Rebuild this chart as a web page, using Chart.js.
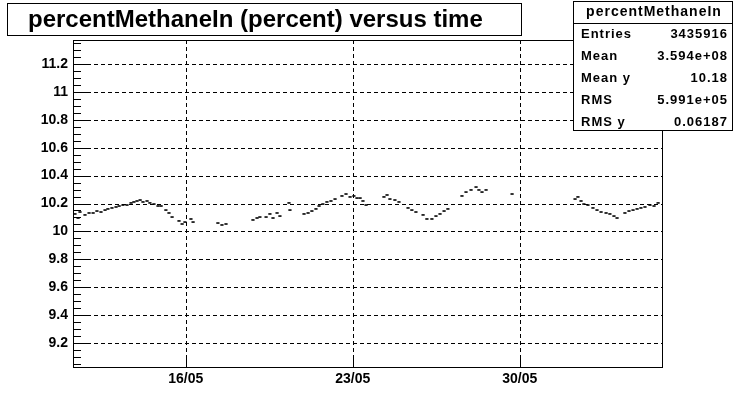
<!DOCTYPE html>
<html>
<head>
<meta charset="utf-8">
<script src="https://cdn.jsdelivr.net/npm/chart.js@4.4.1/dist/chart.umd.min.js"></script>
<style>
  html, body { margin: 0; padding: 0; background: #fff; }
  #wrap { width: 735px; height: 408px; }
</style>
</head>
<body>
<div id="wrap"><canvas id="myChart" width="735" height="408"></canvas></div>
<script>
// time in days of May (16 = 16/05 00:00), values in percent
const days = [
    11.36, 11.49, 11.57, 11.78, 11.95, 12.12, 12.28, 12.45, 12.62, 12.74,
    12.91, 13.08, 13.21, 13.37, 13.54, 13.71, 13.83, 13.96, 14.09, 14.21,
    14.38, 14.50, 14.67, 14.84, 14.97, 15.17, 15.30, 15.43, 15.72, 15.85,
    15.97, 16.22, 16.31,
    17.35, 17.52, 17.69,
    18.82, 18.99, 19.11, 19.37, 19.53, 19.66, 19.83, 19.95, 20.33, 20.37,
    20.96, 21.13, 21.29, 21.46, 21.59, 21.75, 21.92, 22.09, 22.26, 22.55,
    22.72, 22.89, 23.05, 23.18, 23.31, 23.43, 23.56,
    24.31, 24.44, 24.56, 24.77, 24.94, 25.32, 25.48, 25.65, 25.95, 26.11,
    26.32, 26.49, 26.66, 26.83, 26.99,
    27.58, 27.75, 27.96, 28.17, 28.29, 28.42, 28.59,
    29.68,
    32.32, 32.44, 32.57, 32.69, 32.86, 33.07, 33.24, 33.41, 33.62, 33.78,
    33.95, 34.08, 34.41, 34.58, 34.75, 34.92, 35.08, 35.25, 35.46, 35.63,
    35.80
];
const methane = [
    10.125, 10.096, 10.139, 10.118, 10.132, 10.132, 10.146, 10.139, 10.153, 10.161,
    10.168, 10.175, 10.182, 10.189, 10.189, 10.204, 10.211, 10.218, 10.225, 10.211,
    10.218, 10.204, 10.196, 10.182, 10.182, 10.153, 10.132, 10.103, 10.075, 10.053,
    10.067, 10.089, 10.067,
    10.060, 10.046, 10.053,
    10.082, 10.096, 10.103, 10.103, 10.125, 10.096, 10.132, 10.110, 10.204, 10.153,
    10.125, 10.132, 10.146, 10.161, 10.182, 10.196, 10.211, 10.218, 10.232, 10.254,
    10.268, 10.247, 10.254, 10.239, 10.239, 10.218, 10.189,
    10.247, 10.261, 10.232, 10.225, 10.211, 10.168, 10.153, 10.139, 10.118, 10.089,
    10.089, 10.110, 10.125, 10.146, 10.161,
    10.254, 10.282, 10.297, 10.318, 10.297, 10.282, 10.297,
    10.268,
    10.232, 10.247, 10.218, 10.196, 10.189, 10.168, 10.153, 10.139, 10.132, 10.125,
    10.110, 10.096, 10.132, 10.146, 10.153, 10.161, 10.168, 10.175, 10.189, 10.182,
    10.204
];
const xTickDays = [16, 23, 30];
const month = '05';

const titleText = 'percentMethaneIn (percent) versus time';
const statsName = 'percentMethaneIn';
const statsLabels = ['Entries', 'Mean', 'Mean y', 'RMS', 'RMS y'];
const statsValues = ['3435916', '3.594e+08', '10.18', '5.991e+05', '0.06187'];

const xMin = 11.277, xMax = 35.964;
const yMin = 9.028, yMax = 11.372;

// frame, dashed grid and ROOT-like tick marks
const framePlugin = {
    id: 'frame',
    beforeDatasetsDraw(chart) {
        const { ctx, chartArea: a, scales: { x, y } } = chart;
        ctx.save();
        ctx.strokeStyle = '#000';
        ctx.lineWidth = 1;
        ctx.setLineDash([4, 3]);
        ctx.beginPath();
        for (let v = 9.2; v <= 11.21; v += 0.2) {
            const py = Math.round(y.getPixelForValue(v)) + 0.5;
            ctx.moveTo(a.left, py);
            ctx.lineTo(a.right, py);
        }
        xTickDays.forEach(d => {
            const px = Math.round(x.getPixelForValue(d)) + 0.5;
            ctx.moveTo(px, a.top);
            ctx.lineTo(px, a.bottom);
        });
        ctx.stroke();
        ctx.restore();
    },
    afterDraw(chart) {
        const { ctx, chartArea: a, scales: { x, y } } = chart;
        ctx.save();
        ctx.strokeStyle = '#000';
        ctx.lineWidth = 1;
        ctx.setLineDash([]);
        ctx.beginPath();
        for (let i = 1; i * 0.05 + 9.0 < yMax; i++) {
            const v = 9.0 + i * 0.05;
            if (v < yMin) continue;
            const major = i % 4 === 0;
            const py = Math.round(y.getPixelForValue(v)) + 0.5;
            ctx.moveTo(a.left, py);
            ctx.lineTo(a.left + (major ? 16 : 8), py);
        }
        xTickDays.forEach(d => {
            const px = Math.round(x.getPixelForValue(d)) + 0.5;
            ctx.moveTo(px, a.bottom);
            ctx.lineTo(px, a.bottom - 10);
        });
        ctx.stroke();
        ctx.strokeRect(Math.round(a.left) + 0.5, Math.round(a.top) + 0.5,
            Math.round(a.right - a.left), Math.round(a.bottom - a.top));

        // title box
        ctx.fillStyle = '#fff';
        ctx.fillRect(7.5, 3.5, 514, 32);
        ctx.strokeRect(7.5, 3.5, 514, 32);
        ctx.fillStyle = '#000';
        ctx.font = 'bold 24px "Liberation Sans", Arial, sans-serif';
        ctx.textBaseline = 'middle';
        ctx.textAlign = 'left';
        ctx.fillText(titleText, 28, 20);

        // stats box
        ctx.fillStyle = '#fff';
        ctx.fillRect(573.5, 1.5, 159, 129);
        ctx.strokeRect(573.5, 1.5, 159, 129);
        ctx.beginPath();
        ctx.moveTo(573.5, 23.5);
        ctx.lineTo(732.5, 23.5);
        ctx.stroke();
        ctx.fillStyle = '#000';
        if ('letterSpacing' in ctx) ctx.letterSpacing = '1px';
        ctx.font = 'bold 14px "Liberation Sans", Arial, sans-serif';
        ctx.textAlign = 'center';
        ctx.fillText(statsName, 654, 12);
        ctx.font = 'bold 13px "Liberation Sans", Arial, sans-serif';
        statsLabels.forEach((lab, i) => {
            const ty = 34 + i * 22;
            ctx.textAlign = 'left';
            ctx.fillText(lab, 581, ty);
            ctx.textAlign = 'right';
            ctx.fillText(statsValues[i], 728, ty);
        });
        ctx.restore();
    }
};

const ctx = document.getElementById('myChart').getContext('2d');
const chart = new Chart(ctx, {
    type: 'scatter',
    data: {
        datasets: [{
            data: days.map((d, i) => ({ x: d, y: methane[i] })),
            pointStyle: 'line',
            pointRadius: 1.6,
            pointHoverRadius: 1.6,
            borderWidth: 1.6,
            borderColor: '#000',
            backgroundColor: '#000',
            showLine: false
        }]
    },
    options: {
        responsive: false,
        devicePixelRatio: 1,
        animation: false,
        layout: { padding: { left: 0, right: 73, top: 40, bottom: 0 } },
        scales: {
            x: {
                type: 'linear',
                min: xMin,
                max: xMax,
                grid: { display: false, drawTicks: false },
                border: { display: false },
                afterBuildTicks: scale => {
                    scale.ticks = xTickDays.map(v => ({ value: v }));
                },
                afterFit: scale => { scale.height = 41; },
                ticks: {
                    autoSkip: false,
                    maxRotation: 0,
                    padding: 4,
                    color: '#000',
                    font: { family: '"Liberation Sans", Arial, sans-serif', size: 14, weight: 'bold' },
                    callback: v => String(v).padStart(2, '0') + '/' + month
                }
            },
            y: {
                min: yMin,
                max: yMax,
                grid: { display: false, drawTicks: false },
                border: { display: false },
                afterFit: scale => { scale.width = 73; },
                ticks: {
                    stepSize: 0.2,
                    includeBounds: false,
                    padding: 5,
                    color: '#000',
                    font: { family: '"Liberation Sans", Arial, sans-serif', size: 14, weight: 'bold' },
                    callback: v => String(Number(v.toFixed(1)))
                }
            }
        },
        plugins: {
            legend: { display: false },
            tooltip: { enabled: false }
        }
    },
    plugins: [framePlugin]
});
</script>
</body>
</html>
